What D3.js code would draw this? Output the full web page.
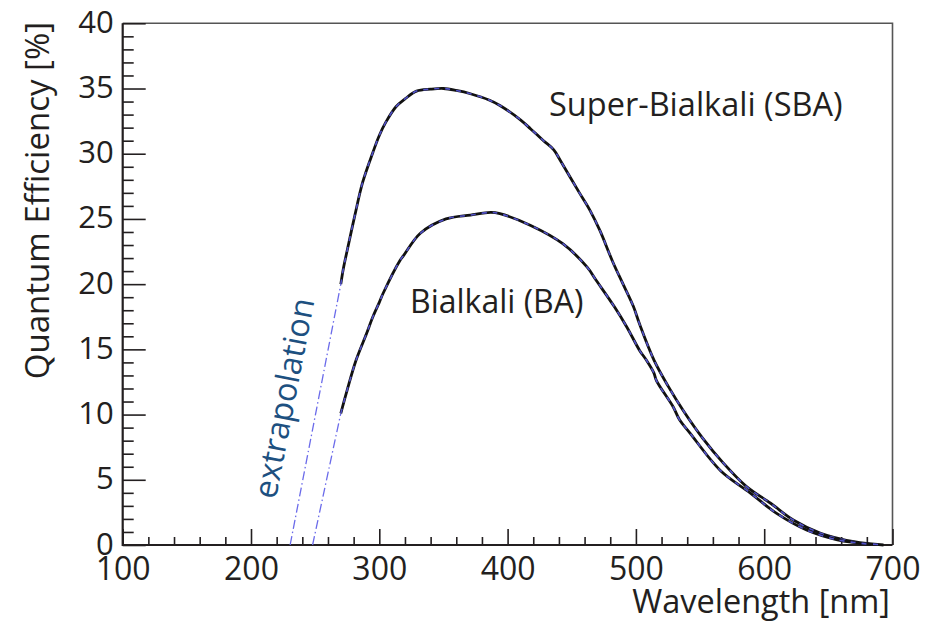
<!DOCTYPE html>
<html>
<head>
<meta charset="utf-8">
<script src="https://cdn.jsdelivr.net/npm/d3@7/dist/d3.min.js"></script>
<style>
  html, body { margin: 0; padding: 0; background: #fff; }
  svg { display: block; }
  text { font-family: "Open Sans", "Noto Sans", sans-serif; fill: #231f20; }
</style>
</head>
<body>
<svg id="chart" width="936" height="623"></svg>
<script>
// Wavelength [nm] and quantum efficiency [%] for the Super-Bialkali photocathode
const sbaWavelength = [270, 272, 275, 281, 287, 295, 300, 305, 313, 320, 329, 340, 350, 360, 371, 386, 394, 410, 418, 428, 436, 441, 456, 464, 472, 482, 490, 498, 503, 514, 525, 537, 552, 568, 586, 605, 623, 644, 670, 693];
const sbaQE         = [20.0, 21.2, 22.6, 25.3, 27.8, 30.1, 31.4, 32.4, 33.6, 34.2, 34.8, 34.95, 35.0, 34.85, 34.6, 34.1, 33.7, 32.6, 31.9, 31.0, 30.3, 29.5, 27.0, 25.7, 24.1, 21.7, 20.0, 18.3, 16.9, 14.2, 12.2, 10.3, 8.2, 6.3, 4.5, 3.2, 1.9, 0.9, 0.25, 0.0];

// Wavelength [nm] and quantum efficiency [%] for the standard Bialkali photocathode
const baWavelength = [270, 275, 282, 290, 295, 300, 303, 316, 319, 332, 352, 371, 387, 394, 418, 443, 462, 469, 483, 493, 503, 508, 514, 516, 529, 534, 542, 566, 589, 610, 633, 657, 683];
const baQE         = [10.1, 11.9, 14.2, 16.2, 17.5, 18.6, 19.3, 21.8, 22.2, 23.9, 25.0, 25.3, 25.5, 25.4, 24.5, 23.1, 21.3, 20.3, 18.3, 16.7, 14.9, 14.2, 13.2, 12.6, 10.6, 9.6, 8.6, 5.7, 4.0, 2.4, 1.15, 0.4, 0.05];

// Straight-line extrapolation of both curves down to zero efficiency
const sbaExtrapWavelength = [230.5, 270];
const sbaExtrapQE         = [0, 20.0];
const baExtrapWavelength  = [248, 270];
const baExtrapQE          = [0, 10.1];

// Axis ticks
const xMajorTicks = [100, 200, 300, 400, 500, 600, 700];
const xMinorTicks = d3.range(100, 701, 20);
const yMajorTicks = [0, 5, 10, 15, 20, 25, 30, 35, 40];
const yMinorTicks = d3.range(0, 41, 1);

const zip = (xs, ys) => xs.map((v, i) => [v, ys[i]]);

const svg = d3.select("#chart");
const plotLeft = 122.7, plotRight = 892.5, plotTop = 23.3, plotBottom = 545;

const x = d3.scaleLinear().domain([100, 700]).range([plotLeft, plotRight]);
const y = d3.scaleLinear().domain([0, 40]).range([plotBottom, plotTop]);

// Frame: light top and right edges
svg.append("path")
  .attr("d", `M${plotLeft},${plotTop}H${plotRight}V${plotBottom}`)
  .attr("fill", "none")
  .attr("stroke", "#555")
  .attr("stroke-width", 1.6);

// X axis with inward ticks
const gx = svg.append("g").attr("transform", `translate(0,${plotBottom})`);
gx.append("g")
  .call(d3.axisBottom(x).tickValues(xMinorTicks.filter(v => v % 100 !== 0)).tickSize(-8).tickFormat(""))
  .call(g => g.select(".domain").remove());
gx.append("g")
  .call(d3.axisBottom(x).tickValues(xMajorTicks).tickSize(-16).tickPadding(0).tickFormat(d3.format("d")))
  .call(g => g.select(".domain").remove())
  .call(g => g.selectAll("text")
    .attr("y", 35).attr("dy", 0)
    .attr("fill", "#231f20")
    .style("font-size", "32px")
    .style("font-family", "'Open Sans', sans-serif"));
gx.selectAll(".tick line").attr("stroke", "#231f20").attr("stroke-width", 1.6);

// Y axis with inward ticks
const gy = svg.append("g").attr("transform", `translate(${plotLeft},0)`);
gy.append("g")
  .call(d3.axisLeft(y).tickValues(yMinorTicks.filter(v => v % 5 !== 0)).tickSize(-11).tickFormat(""))
  .call(g => g.select(".domain").remove());
gy.append("g")
  .call(d3.axisLeft(y).tickValues(yMajorTicks).tickSize(-23).tickPadding(0).tickFormat(d3.format("d")))
  .call(g => g.select(".domain").remove())
  .call(g => g.selectAll("text")
    .attr("x", -9).attr("dy", 0).attr("y", 9)
    .attr("fill", "#231f20")
    .style("font-size", "31px")
    .style("font-family", "'Open Sans', sans-serif"));
gy.selectAll(".tick line").attr("stroke", "#231f20").attr("stroke-width", 1.6);

// Main axis lines
svg.append("path")
  .attr("d", `M${plotLeft},${plotTop}V${plotBottom}H${plotRight}`)
  .attr("fill", "none")
  .attr("stroke", "#231f20")
  .attr("stroke-width", 2.2);

// Axis titles
svg.append("text")
  .attr("x", 890).attr("y", 613)
  .attr("text-anchor", "end")
  .style("font-size", "32.5px")
  .text("Wavelength [nm]");

svg.append("text")
  .attr("transform", "translate(49,22) rotate(-90)")
  .attr("text-anchor", "end")
  .style("font-size", "33px")
  .text("Quantum Efficiency [%]");

// Extrapolation lines
const line = d3.line().x(d => x(d[0])).y(d => y(d[1]));
[zip(sbaExtrapWavelength, sbaExtrapQE), zip(baExtrapWavelength, baExtrapQE)].forEach(pts => {
  svg.append("path")
    .attr("d", line(pts))
    .attr("fill", "none")
    .attr("stroke", "#6b6bea")
    .attr("stroke-width", 1.3)
    .attr("stroke-dasharray", "9,3,1.5,3");
});

// Measured curves: black line overlaid with blue dashes
const curve = d3.line().x(d => x(d[0])).y(d => y(d[1])).curve(d3.curveCatmullRom.alpha(0.5));
[zip(sbaWavelength, sbaQE), zip(baWavelength, baQE)].forEach(pts => {
  svg.append("path")
    .attr("d", curve(pts))
    .attr("fill", "none")
    .attr("stroke", "#111")
    .attr("stroke-width", 2.8)
    .attr("stroke-linejoin", "round");
  svg.append("path")
    .attr("d", curve(pts))
    .attr("fill", "none")
    .attr("stroke", "#5050c8")
    .attr("stroke-width", 1.6)
    .attr("stroke-dasharray", "5,6");
});

// Curve labels
svg.append("text")
  .attr("x", 549).attr("y", 116)
  .style("font-size", "32.5px")
  .text("Super-Bialkali (SBA)");

svg.append("text")
  .attr("x", 410).attr("y", 313)
  .style("font-size", "32px")
  .text("Bialkali (BA)");

svg.append("text")
  .attr("transform", "translate(284,398) rotate(-79)")
  .attr("text-anchor", "middle")
  .attr("dy", "0.35em")
  .style("font-size", "32.5px")
  .style("fill", "#1d5080")
  .text("extrapolation");
</script>
</body>
</html>
